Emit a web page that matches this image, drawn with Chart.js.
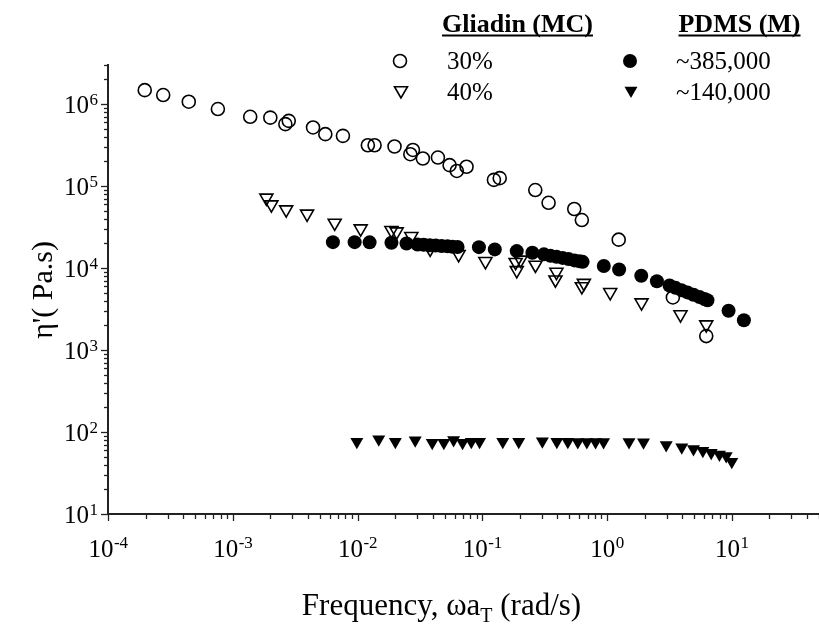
<!DOCTYPE html>
<html><head><meta charset="utf-8">
<script src="https://cdn.jsdelivr.net/npm/chart.js@4.4.1/dist/chart.umd.min.js"></script>
<style>html,body{margin:0;padding:0;background:#fff;}canvas{display:block;}</style>
</head><body>
<canvas id="c" width="819" height="635"></canvas>
<script>
// ---- data ----
const xTickValues = [1e-4, 1e-3, 1e-2, 1e-1, 1, 10];
const xTickExponents = ['-4', '-3', '-2', '-1', '0', '1'];
const yTickValues = [10, 100, 1e3, 1e4, 1e5, 1e6];
const yTickExponents = ['1', '2', '3', '4', '5', '6'];

const gliadin30Freq = [1.97e-4, 2.77e-4, 4.44e-4, 7.6e-4, 1.38e-3, 2.0e-3, 2.64e-3, 2.81e-3, 4.40e-3, 5.52e-3, 7.64e-3, 1.21e-2, 1.37e-2, 1.98e-2, 2.65e-2, 2.78e-2, 3.34e-2, 4.41e-2, 5.47e-2, 6.25e-2, 7.48e-2, 0.124, 0.138, 0.266, 0.340, 0.546, 0.628, 1.24, 3.37, 6.24];
const gliadin30Eta = [1.48e6, 1.29e6, 1.07e6, 8.7e5, 7.0e5, 6.84e5, 5.7e5, 6.25e5, 5.19e5, 4.30e5, 4.10e5, 3.15e5, 3.15e5, 3.04e5, 2.45e5, 2.76e5, 2.17e5, 2.23e5, 1.80e5, 1.53e5, 1.72e5, 1.19e5, 1.25e5, 8.95e4, 6.25e4, 5.25e4, 3.85e4, 2.22e4, 4.38e3, 1.48e3];

const gliadin40Freq = [1.86e-3, 2.04e-3, 2.68e-3, 3.94e-3, 6.56e-3, 1.06e-2, 1.87e-2, 2.06e-2, 2.70e-2, 3.82e-2, 6.46e-2, 0.106, 0.185, 0.189, 0.203, 0.267, 0.393, 0.386, 0.628, 0.652, 1.06, 1.89, 3.88, 6.24];
const gliadin40Eta = [7.18e4, 5.95e4, 5.17e4, 4.58e4, 3.55e4, 3.03e4, 2.89e4, 2.78e4, 2.44e4, 1.71e4, 1.47e4, 1.21e4, 1.18e4, 9.38e3, 1.26e4, 1.09e4, 8.94e3, 7.2e3, 5.97e3, 6.56e3, 5.06e3, 3.79e3, 2.71e3, 2.04e3];

const pdms385Freq = [6.35e-3, 9.48e-3, 1.25e-2, 1.87e-2, 2.47e-2, 3.03e-2, 3.39e-2, 3.79e-2, 4.23e-2, 4.72e-2, 5.27e-2, 5.78e-2, 6.34e-2, 9.40e-2, 0.126, 0.189, 0.252, 0.312, 0.352, 0.394, 0.440, 0.491, 0.548, 0.602, 0.637, 0.942, 1.25, 1.88, 2.51, 3.17, 3.54, 3.95, 4.41, 4.93, 5.51, 6.04, 6.38, 9.42, 12.5];
const pdms385Eta = [2.07e4, 2.07e4, 2.06e4, 2.04e4, 1.99e4, 1.94e4, 1.92e4, 1.90e4, 1.88e4, 1.86e4, 1.84e4, 1.82e4, 1.81e4, 1.80e4, 1.69e4, 1.61e4, 1.54e4, 1.47e4, 1.41e4, 1.37e4, 1.33e4, 1.29e4, 1.24e4, 1.21e4, 1.19e4, 1.06e4, 9.62e3, 8.05e3, 6.92e3, 6.13e3, 5.74e3, 5.38e3, 5.05e3, 4.73e3, 4.43e3, 4.19e3, 4.05e3, 3.01e3, 2.31e3];

const pdms140Freq = [9.88e-3, 1.48e-2, 2.01e-2, 2.90e-2, 3.97e-2, 4.92e-2, 5.89e-2, 6.95e-2, 8.17e-2, 9.51e-2, 0.146, 0.196, 0.303, 0.396, 0.485, 0.583, 0.689, 0.809, 0.938, 1.50, 1.96, 2.98, 3.97, 4.93, 5.86, 6.84, 7.96, 9.02, 10.0];
const pdms140Eta = [76.3, 81.5, 76.3, 79.2, 74.2, 73.8, 79.8, 73.8, 75.9, 76.3, 76.3, 75.9, 76.9, 76.3, 75.9, 75.5, 75.5, 75.5, 75.5, 75.5, 74.8, 69.3, 65.0, 62.0, 59.3, 56.0, 53.3, 50.9, 43.5];

const legendGroups = ['Gliadin (MC)', 'PDMS (M)'];
const seriesNames = ['30%', '40%', '~385,000', '~140,000'];
const xTitleParts = ['Frequency, \u03C9a', 'T', ' (rad/s)'];
const yTitle = "\u03B7'( Pa.s)";

// ---- chart ----
const FONT = "'Liberation Serif', 'Times New Roman', serif";
function pts(xs, ys) { return xs.map((x, i) => ({ x: x, y: ys[i] })); }

const decor = {
  id: 'decor',
  afterDraw(chart) {
    const ctx = chart.ctx, xs = chart.scales.x, ys = chart.scales.y, a = chart.chartArea;
    ctx.save();
    ctx.strokeStyle = '#222';
    ctx.lineWidth = 1.3;
    // tick marks (major + minor) placed by the scales
    for (let e = -4; e <= 2; e++) for (let m = 1; m <= 9; m++) {
      const v = m * Math.pow(10, e);
      if (v < xs.min * 0.999 || v > xs.max) continue;
      const px = Math.round(xs.getPixelForValue(v)) + 0.5;
      const len = m === 1 ? 7 : 5;
      ctx.beginPath(); ctx.moveTo(px, a.bottom); ctx.lineTo(px, a.bottom + len); ctx.stroke();
    }
    for (let e = 1; e <= 6; e++) for (let m = 1; m <= 9; m++) {
      const v = m * Math.pow(10, e);
      if (v < ys.min * 0.999 || v > ys.max * 1.001) continue;
      const py = Math.round(ys.getPixelForValue(v)) + 0.5;
      const len = m === 1 ? 7 : 4;
      ctx.beginPath(); ctx.moveTo(a.left, py); ctx.lineTo(a.left - len, py); ctx.stroke();
    }
    ctx.fillStyle = '#000';
    const F10 = '25px ' + FONT, FEX = '17px ' + FONT;
    ctx.textBaseline = 'alphabetic';
    // x tick labels: 10 with raised exponent
    xTickValues.forEach((v, i) => {
      const px = xs.getPixelForValue(v);
      ctx.font = F10; const w1 = ctx.measureText('10').width;
      ctx.font = FEX; const w2 = ctx.measureText(xTickExponents[i]).width;
      let sx = px - (w1 + w2) / 2;
      ctx.textAlign = 'left';
      ctx.font = F10; ctx.fillText('10', sx, 557);
      ctx.font = FEX; ctx.fillText(xTickExponents[i], sx + w1 + 0.5, 548);
    });
    // y tick labels
    yTickValues.forEach((v, i) => {
      const py = ys.getPixelForValue(v);
      ctx.font = FEX; const w2 = ctx.measureText(yTickExponents[i]).width;
      ctx.textAlign = 'right';
      ctx.fillText(yTickExponents[i], 98, py + 1);
      ctx.font = F10; ctx.fillText('10', 98 - w2 - 0.5, py + 9);
    });
    // x title with subscript
    const big = '31px ' + FONT, small = '20px ' + FONT;
    ctx.font = big; const w0 = ctx.measureText(xTitleParts[0]).width, w2 = ctx.measureText(xTitleParts[2]).width;
    ctx.font = small; const w1 = ctx.measureText(xTitleParts[1]).width;
    let sx = 441.5 - (w0 + w1 + w2) / 2;
    ctx.textAlign = 'left';
    ctx.font = big; ctx.fillText(xTitleParts[0], sx, 615); sx += w0;
    ctx.font = small; ctx.fillText(xTitleParts[1], sx, 622); sx += w1;
    ctx.font = big; ctx.fillText(xTitleParts[2], sx, 615);
    // y title
    ctx.save();
    ctx.translate(52, 290); ctx.rotate(-Math.PI / 2);
    ctx.textAlign = 'center';
    ctx.font = '30px ' + FONT;
    ctx.fillText(yTitle, 0, 0);
    ctx.restore();
    // legend headers
    ctx.font = 'bold 26px ' + FONT; ctx.textAlign = 'center';
    const heads = [[legendGroups[0], 517.5], [legendGroups[1], 739.5]];
    heads.forEach(h => {
      ctx.fillText(h[0], h[1], 32);
      const w = ctx.measureText(h[0]).width;
      ctx.fillRect(h[1] - w / 2, 34.5, w, 2);
    });
    // legend rows
    ctx.font = '25px ' + FONT; ctx.textAlign = 'left';
    ctx.fillText(seriesNames[0], 447, 69);
    ctx.fillText(seriesNames[1], 447, 99.5);
    ctx.fillText(seriesNames[2], 676, 69);
    ctx.fillText(seriesNames[3], 676, 99.5);
    ctx.lineWidth = 1.6; ctx.strokeStyle = '#000';
    ctx.beginPath(); ctx.arc(400, 61, 6.5, 0, Math.PI * 2); ctx.stroke();
    ctx.beginPath(); ctx.arc(630, 61, 7, 0, Math.PI * 2); ctx.fill();
    function tri(cx, cy, r, fill) {
      ctx.beginPath();
      ctx.moveTo(cx, cy + r); ctx.lineTo(cx - r * 0.866, cy - r / 2); ctx.lineTo(cx + r * 0.866, cy - r / 2); ctx.closePath();
      fill ? ctx.fill() : ctx.stroke();
    }
    tri(401, 90.5, 7.5, false);
    tri(631, 90.5, 7.5, true);
    ctx.restore();
  }
};

new Chart(document.getElementById('c'), {
  type: 'scatter',
  data: {
    datasets: [
      { label: seriesNames[0], data: pts(gliadin30Freq, gliadin30Eta), pointStyle: 'circle', pointRadius: 6.5,
        backgroundColor: 'rgba(0,0,0,0)', borderColor: '#000', borderWidth: 1.6 },
      { label: seriesNames[1], data: pts(gliadin40Freq, gliadin40Eta), pointStyle: 'triangle', pointRotation: 180, pointRadius: 7.5,
        backgroundColor: 'rgba(0,0,0,0)', borderColor: '#000', borderWidth: 1.6 },
      { label: seriesNames[2], data: pts(pdms385Freq, pdms385Eta), pointStyle: 'circle', pointRadius: 7,
        backgroundColor: '#000', borderColor: '#000', borderWidth: 0 },
      { label: seriesNames[3], data: pts(pdms140Freq, pdms140Eta), pointStyle: 'triangle', pointRotation: 180, pointRadius: 7.5,
        backgroundColor: '#000', borderColor: '#000', borderWidth: 0 }
    ]
  },
  options: {
    responsive: false, animation: false, devicePixelRatio: 1, events: [],
    layout: { autoPadding: false, padding: { top: 65, right: 0, left: 0, bottom: 0 } },
    plugins: { legend: { display: false }, tooltip: { enabled: false }, title: { display: false } },
    scales: {
      x: {
        type: 'logarithmic', position: 'bottom', min: 1e-4, max: 50,
        afterFit(s) { s.height = 121; s.paddingLeft = 0; s.paddingRight = 0; },
        afterBuildTicks(s) { s.ticks = xTickValues.map(v => ({ value: v })); },
        ticks: { display: false },
        grid: { display: false, drawTicks: false },
        border: { display: true, color: '#222', width: 2 }
      },
      y: {
        type: 'logarithmic', position: 'left', min: 10, max: 3e6,
        afterFit(s) { s.width = 108; s.paddingTop = 0; s.paddingBottom = 0; },
        afterBuildTicks(s) { s.ticks = yTickValues.map(v => ({ value: v })); },
        ticks: { display: false },
        grid: { display: false, drawTicks: false },
        border: { display: true, color: '#222', width: 2 }
      }
    }
  },
  plugins: [decor]
});
</script>
</body></html>
